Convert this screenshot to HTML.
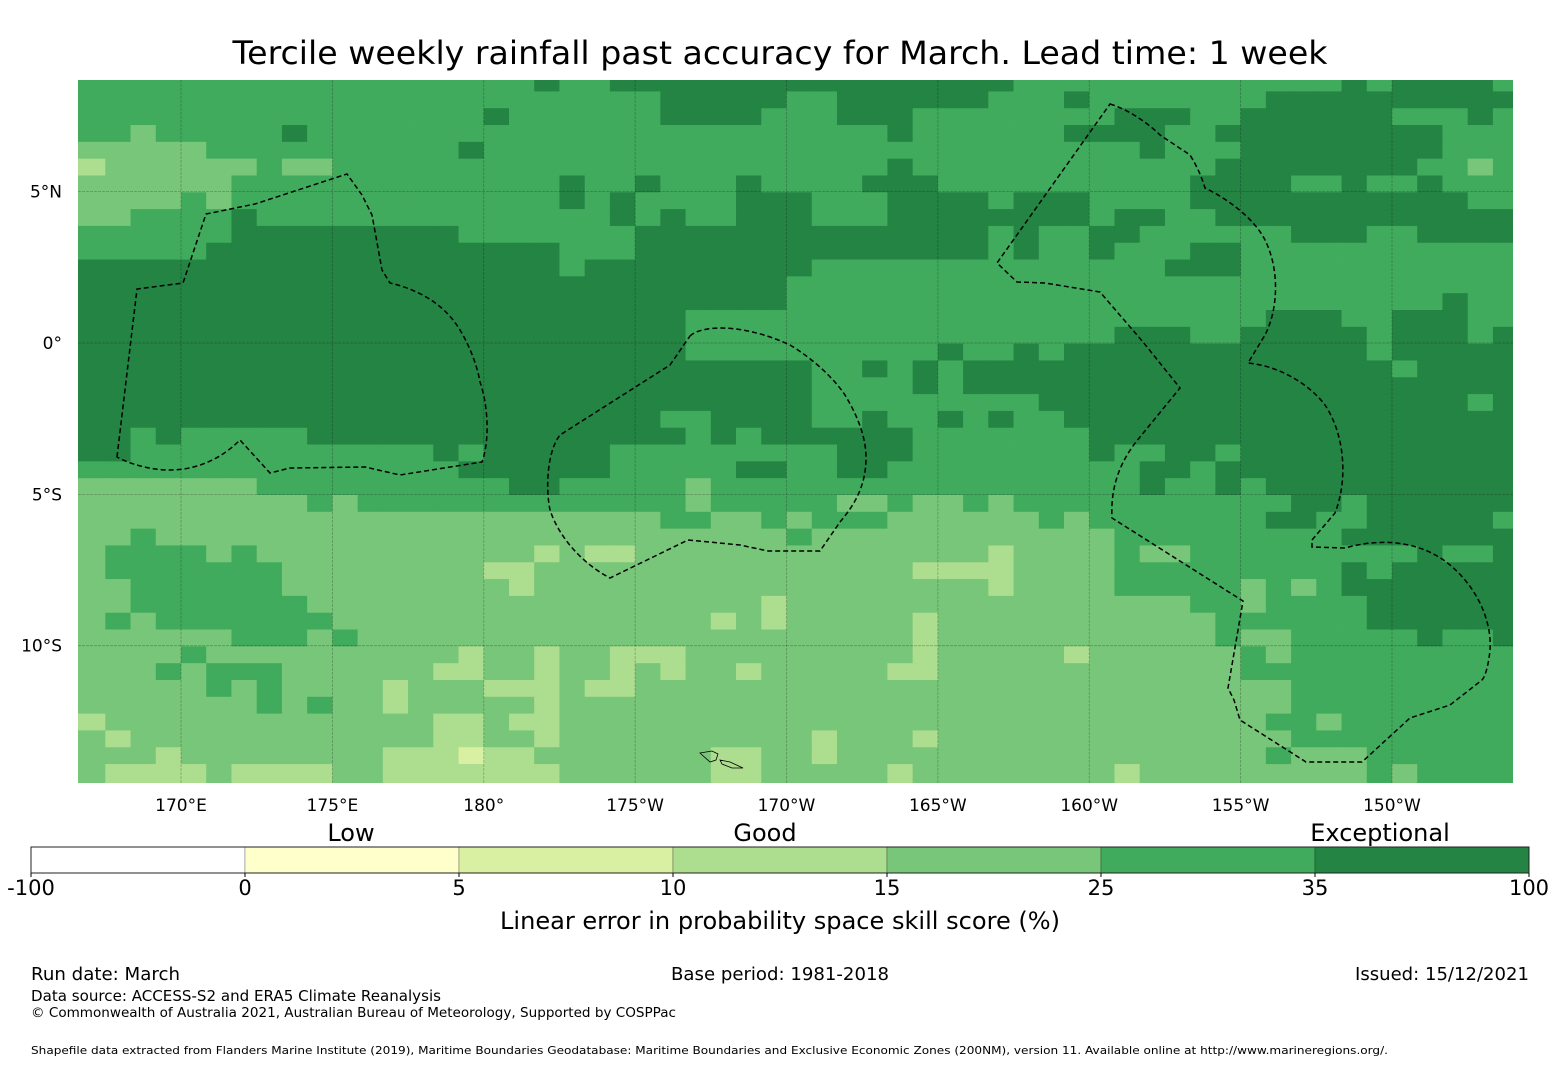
<!DOCTYPE html>
<html><head><meta charset="utf-8">
<style>
html,body{margin:0;padding:0;background:#fff;}
svg{display:block;font-family:"DejaVu Sans","Liberation Sans",sans-serif;}
</style></head>
<body>
<svg id="chart" width="1560" height="1065" viewBox="0 0 1560 1065" xmlns="http://www.w3.org/2000/svg">
<rect x="0" y="0" width="1560" height="1065" fill="#fff"/>
<text x="780" y="64" font-size="32" text-anchor="middle" textLength="1095" lengthAdjust="spacingAndGlyphs">Tercile weekly rainfall past accuracy for March. Lead time: 1 week</text>
<defs><clipPath id="mapclip"><rect x="78" y="80" width="1435" height="703"/></clipPath></defs>
<g id="map" clip-path="url(#mapclip)"></g>
<g id="eez" clip-path="url(#mapclip)" fill="none" stroke="#000" stroke-width="1.5" stroke-dasharray="5,3"></g>
<g fill="none" stroke="#000" stroke-width="0.8">
<path d="M700,753 L712,751 L718,754 L716,760 L710,762 Z"/>
<path d="M720,760 L730,762 L743,768 L732,768 L722,764 Z"/>
</g>
<g id="lonlabels" font-size="17" text-anchor="middle"></g>
<g id="latlabels" font-size="17" text-anchor="end"></g>
<g id="colorbar"></g>
<text x="351" y="841" font-size="24" text-anchor="middle">Low</text>
<text x="765" y="841" font-size="24" text-anchor="middle">Good</text>
<text x="1380" y="841" font-size="24" text-anchor="middle">Exceptional</text>
<text x="780" y="929" font-size="24" text-anchor="middle" textLength="560" lengthAdjust="spacingAndGlyphs">Linear error in probability space skill score (%)</text>
<text x="31" y="980" font-size="17.5" textLength="149" lengthAdjust="spacingAndGlyphs">Run date: March</text>
<text x="780" y="980" font-size="17.5" text-anchor="middle" textLength="218" lengthAdjust="spacingAndGlyphs">Base period: 1981-2018</text>
<text x="1529" y="980" font-size="17.5" text-anchor="end" textLength="174" lengthAdjust="spacingAndGlyphs">Issued: 15/12/2021</text>
<text x="31" y="1001" font-size="15" textLength="410" lengthAdjust="spacingAndGlyphs">Data source: ACCESS-S2 and ERA5 Climate Reanalysis</text>
<text x="31" y="1017" font-size="13" textLength="645" lengthAdjust="spacingAndGlyphs">© Commonwealth of Australia 2021, Australian Bureau of Meteorology, Supported by COSPPac</text>
<text x="31" y="1054" font-size="11" textLength="1357" lengthAdjust="spacingAndGlyphs">Shapefile data extracted from Flanders Marine Institute (2019), Maritime Boundaries Geodatabase: Maritime Boundaries and Exclusive Economic Zones (200NM), version 11. Available online at http://www.marineregions.org/.</text>
</svg>
<script>
// category codes per cell: 2=5-10, 3=10-15, 4=15-25, 5=25-35, 6=35-100
const gridRows = [
"5555555555555555556"+"5566666666666666665"+"5555555555556566665",
"5555555555555555555"+"5555666665566666655"+"5655555556666666666",
"5555555555555555655"+"5555666655566655555"+"5556665566666655565",
"5545555565555555555"+"5555555555555655555"+"5666655666666666555",
"4444455555555556555"+"5555555555555555555"+"5555655566666666555",
"3444444544555555555"+"5555555555555655555"+"5555555666666665545",
"4444445555555555555"+"6556555655556665555"+"5555556666556556555",
"4444545555555555555"+"6565555666555666656"+"6655556666666666655",
"4455556555555555555"+"5565655666555666666"+"6656655666666666666",
"5555556666666665555"+"5556666666666666656"+"5566555555666556666",
"5555566666666666666"+"5556666666666666656"+"5565556655555555555",
"6666666666666666666"+"5666666666555555555"+"5555566655555555555",
"6666666666666666666"+"6666666665555555555"+"5555555555555555555",
"6666666666666666666"+"6666666665555555555"+"5555555555555555655",
"6666666666666666666"+"6666655555555555555"+"5555555556665566655",
"6666666666666666666"+"6666655555555555555"+"5556665566666566656",
"6666666666666666666"+"6666655555555556556"+"5666666666666566666",
"6666666666666666666"+"6666666666556565666"+"6666666666666656666",
"6666666666666666666"+"6666666666555565666"+"6666666666666666666",
"6666666666666666666"+"6666666666555555555"+"6666666666666666656",
"6666666666666666666"+"6666556666556556565"+"5666666666666666666",
"6656555556666666666"+"6666656566666655555"+"5566666666666666666",
"6655555555555565666"+"6655555555566655555"+"5565566566666666666",
"5555555555555556666"+"6655555665566555555"+"5555665666666666666",
"4444444555555555566"+"5555545555555555555"+"5555655656666666666",
"4444444445455555555"+"5555545555544544545"+"5555555555665666666",
"4444444444444444444"+"4444554454555444444"+"5455555556655666665",
"4454444444444444444"+"4444444445444444444"+"4445555555556666666",
"4555545444444444443"+"4334444444444444434"+"4445445555555556556",
"4555555544444444334"+"4444444444444433334"+"4445555555556566666",
"4455555544444444434"+"4444444444444444434"+"4445555545456666666",
"4455555554444444444"+"4444444434444444444"+"4444445545555666666",
"4545555555444444444"+"4444443434444434444"+"4444444555555666666",
"4444445554544444444"+"4444444444444434444"+"4444444544555556556",
"4444544444444443443"+"4433344444444434444"+"4344444454555555555",
"4445455544444433443"+"4434344344444334444"+"4444444455555555555",
"4444454544443444333"+"4334444444444444444"+"4444444444555555555",
"4444444545443444443"+"4444444444444444444"+"4444444444555555555",
"3444444444444433433"+"4444444444444444444"+"4444444445545555555",
"4344444444444433443"+"4444444444344434444"+"4444444444555555555",
"4443444444443332334"+"4444443344344444444"+"4444444445444555555",
"4333343333443333333"+"4444443344444344444"+"4443444444444545555"
];
const levelCodes = ["1","2","3","4","5","6"];
const levelColors = ["#ffffcc","#d9f0a3","#addd8e","#78c679","#41ab5d","#238443"];
const lonTicks = [170,175,180,185,190,195,200,205,210];
const lonLabels = ["170°E","175°E","180°","175°W","170°W","165°W","160°W","155°W","150°W"];
const latTicks = [5,0,-5,-10];
const latLabels = ["5°N","0°","5°S","10°S"];
const cbBounds = ["-100","0","5","10","15","25","35","100"];
const cbColors = ["#ffffff","#ffffcc","#d9f0a3","#addd8e","#78c679","#41ab5d","#238443"];

const NS = "http://www.w3.org/2000/svg";
const MAP = {x0:78, x1:1513, y0:80, y1:783};
const CELL_LON0 = 166.6667, CELL_DLON = 0.83333;
const CELL_LAT0 = 8.312, CELL_DLAT = 0.55556;
function xOfLon(lon){ return 181 + (lon - 170) * 30.275; }
function yOfLat(lat){ return 343 - lat * 30.27; }
function mk(tag, attrs){ const e=document.createElementNS(NS,tag); for(const k in attrs) e.setAttribute(k, attrs[k]); return e; }

const map = document.getElementById('map');
gridRows.forEach(function(row, r){
  let top = r===0 ? MAP.y0 : yOfLat(CELL_LAT0 - (r-1)*CELL_DLAT);
  let bot = yOfLat(CELL_LAT0 - r*CELL_DLAT);
  if (r === gridRows.length-1) bot = MAP.y1;
  for (let c=0;c<row.length;c++){
    let left = c===0 ? MAP.x0 : xOfLon(CELL_LON0 + c*CELL_DLON);
    let right = c===row.length-1 ? MAP.x1 : xOfLon(CELL_LON0 + (c+1)*CELL_DLON);
    const lv = levelCodes.indexOf(row[c]);
    const rect = mk('rect',{x:left.toFixed(2), y:top.toFixed(2), width:(right-left+0.4).toFixed(2), height:(bot-top+0.4).toFixed(2), fill:levelColors[lv]});
    
    
    map.appendChild(rect);
  }
});
lonTicks.forEach(function(lon){
  const x = xOfLon(lon);
  const l = mk('line',{x1:x, y1:MAP.y0, x2:x, y2:MAP.y1, stroke:"#000", 'stroke-opacity':0.25, 'stroke-width':0.8, 'stroke-dasharray':'3,1'});
  
  
  map.appendChild(l);
});
latTicks.forEach(function(lat){
  const y = yOfLat(lat);
  const l = mk('line',{x1:MAP.x0, y1:y, x2:MAP.x1, y2:y, stroke:"#000", 'stroke-opacity':0.25, 'stroke-width':0.8, 'stroke-dasharray':'3,1'});
  
  
  map.appendChild(l);
});
const lonG = document.getElementById('lonlabels');
lonTicks.forEach(function(lon, i){
  const t = mk('text',{x:xOfLon(lon), y:811});
  
  
  t.textContent = lonLabels[i];
  lonG.appendChild(t);
});
const latG = document.getElementById('latlabels');
latTicks.forEach(function(lat, i){
  const t = mk('text',{x:62, y:yOfLat(lat)+6});
  
  
  t.textContent = latLabels[i];
  latG.appendChild(t);
});
const eezPaths = [
 "M117,457 L137,289 L183,283 L206,214 L255,204 L347,174 L362,195 L372,215 L382,270 L390,283 C420,290 445,305 460,330 C472,350 478,370 480,382 C488,405 490,440 482,462 L400,475 L365,467 L290,468 L270,473 L240,440 C220,460 195,470 170,470 C150,470 130,464 117,457 Z",
 "M690,336 C700,326 740,322 790,345 C815,360 835,380 845,395 C860,420 866,440 866,458 C866,490 850,510 840,522 L820,551 L768,551 L740,545 L688,540 L610,578 C585,565 560,540 550,510 C545,485 548,450 560,435 L670,365 Z",
 "M1110,104 C1130,110 1150,125 1160,135 L1190,155 C1198,168 1202,178 1205,188 C1230,200 1255,220 1265,240 C1280,270 1278,310 1265,335 L1248,363 C1280,366 1310,385 1325,405 C1345,435 1348,480 1335,513 L1312,540 L1312,547 L1345,548 C1380,538 1420,540 1450,565 C1480,590 1492,625 1490,650 C1488,670 1484,678 1482,680 L1450,705 L1410,718 L1362,762 L1306,762 L1240,720 L1234,700 L1228,688 L1243,601 L1112,518 C1110,480 1125,455 1140,437 L1180,388 L1143,342 L1100,292 L1045,283 L1017,282 L997,263 Z"
];
const eez = document.getElementById('eez');
eezPaths.forEach(function(d){
  const p = mk('path',{d:d});
  
  
  eez.appendChild(p);
});
const cb = document.getElementById('colorbar');
const CB = {x0:31, x1:1529, y0:847, y1:873};
const segW = (CB.x1-CB.x0)/cbColors.length;
cbColors.forEach(function(col, i){
  const r = mk('rect',{x:CB.x0+i*segW, y:CB.y0, width:segW, height:CB.y1-CB.y0, fill:col, stroke:"#000", 'stroke-opacity':0.25, 'stroke-width':1});
  
  
  cb.appendChild(r);
});
const frame = mk('rect',{x:CB.x0, y:CB.y0, width:CB.x1-CB.x0, height:CB.y1-CB.y0, fill:"none", stroke:"#222", 'stroke-width':1});


cb.appendChild(frame);
cbBounds.forEach(function(lbl, i){
  const x = CB.x0 + i*segW;
  const tk = mk('line',{x1:x, y1:CB.y1, x2:x, y2:CB.y1+4, stroke:"#000", 'stroke-width':1});
  
  
  cb.appendChild(tk);
  const t = mk('text',{x:x, y:895, 'font-size':21, 'text-anchor':'middle'});
  
  
  t.textContent = lbl;
  cb.appendChild(t);
});
</script>
</body></html>
